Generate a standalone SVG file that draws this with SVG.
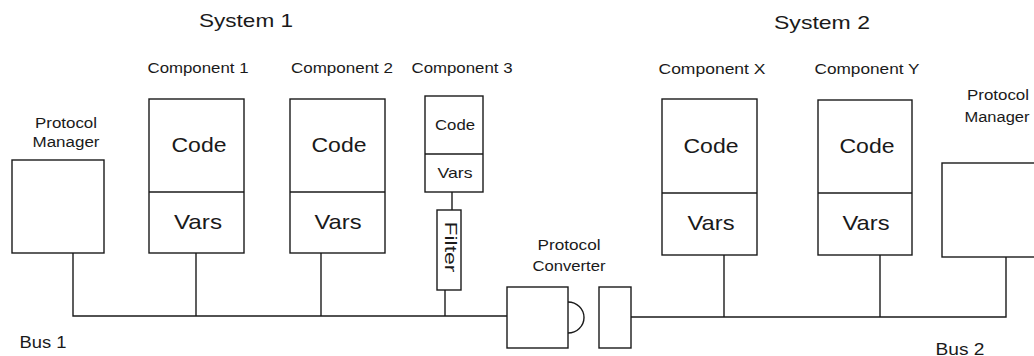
<svg xmlns="http://www.w3.org/2000/svg" width="1034" height="356" viewBox="0 0 1034 356">
<style>
  .box{fill:#fff;stroke:#1a1a1a;stroke-width:1.4}
  .ln{fill:none;stroke:#1a1a1a;stroke-width:1.4}
  text{font-family:"Liberation Sans",Arial,sans-serif;fill:#1a1a1a;text-anchor:middle}
  .t19{font-size:19px}
  .t15{font-size:15px}
  .t14{font-size:14px}
  .t21{font-size:21px}
  .t16{font-size:16px}
  .t17{font-size:17px}
</style>
<rect width="1034" height="356" fill="#fff"/>
<g id="connectors">
  <polyline class="ln" points="73,253 73,316 507,316"/>
  <line class="ln" x1="196" y1="253" x2="196" y2="316"/>
  <line class="ln" x1="321" y1="253" x2="321" y2="316"/>
  <line class="ln" x1="452" y1="192" x2="452" y2="210"/>
  <line class="ln" x1="445" y1="290" x2="445" y2="316"/>
  <polyline class="ln" points="631,317 1006,317 1006,257"/>
  <line class="ln" x1="724" y1="255" x2="724" y2="317"/>
  <line class="ln" x1="880" y1="255" x2="880" y2="317"/>
</g>
<g id="labels">
  <text class="t19" x="246" y="27" textLength="94" lengthAdjust="spacingAndGlyphs">System 1</text>
  <text class="t19" x="822" y="29" textLength="96" lengthAdjust="spacingAndGlyphs">System 2</text>
  <text class="t16" x="43" y="348" textLength="47" lengthAdjust="spacingAndGlyphs">Bus 1</text>
  <text class="t16" x="960" y="355" textLength="49" lengthAdjust="spacingAndGlyphs">Bus 2</text>
</g>
<g id="pm1">
  <rect class="box" x="12" y="160" width="92" height="93"/>
  <text class="t14" x="66" y="128" textLength="62" lengthAdjust="spacingAndGlyphs">Protocol</text>
  <text class="t14" x="66" y="147" textLength="67" lengthAdjust="spacingAndGlyphs">Manager</text>
</g>
<g id="comp1">
  <text class="t15" x="198" y="73" textLength="101" lengthAdjust="spacingAndGlyphs">Component 1</text>
  <rect class="box" x="149" y="99" width="95" height="154"/>
  <line class="ln" x1="149" y1="192" x2="244" y2="192"/>
  <text class="t21" x="199" y="152" textLength="55" lengthAdjust="spacingAndGlyphs">Code</text>
  <text class="t21" x="198" y="229" textLength="48" lengthAdjust="spacingAndGlyphs">Vars</text>
</g>
<g id="comp2">
  <text class="t15" x="342" y="73" textLength="102" lengthAdjust="spacingAndGlyphs">Component 2</text>
  <rect class="box" x="290" y="99" width="95" height="154"/>
  <line class="ln" x1="290" y1="192" x2="385" y2="192"/>
  <text class="t21" x="339" y="152" textLength="55" lengthAdjust="spacingAndGlyphs">Code</text>
  <text class="t21" x="338" y="229" textLength="47" lengthAdjust="spacingAndGlyphs">Vars</text>
</g>
<g id="comp3">
  <text class="t15" x="462" y="73" textLength="101" lengthAdjust="spacingAndGlyphs">Component 3</text>
  <rect class="box" x="425" y="96" width="58" height="96"/>
  <line class="ln" x1="425" y1="154" x2="483" y2="154"/>
  <text class="t15" x="455" y="130" textLength="40" lengthAdjust="spacingAndGlyphs">Code</text>
  <text class="t15" x="455" y="178" textLength="35" lengthAdjust="spacingAndGlyphs">Vars</text>
</g>
<g id="filter">
  <rect class="box" x="437" y="210" width="24" height="80"/>
  <text class="t17" transform="translate(450,247) rotate(90)" dominant-baseline="central" textLength="51" lengthAdjust="spacingAndGlyphs">Filter</text>
</g>
<g id="converter">
  <text class="t14" x="569" y="250" textLength="63" lengthAdjust="spacingAndGlyphs">Protocol</text>
  <text class="t14" x="569" y="271" textLength="73" lengthAdjust="spacingAndGlyphs">Converter</text>
  <rect class="box" x="507" y="287" width="61" height="61"/>
  <path class="ln" d="M568,302 A16,15.5 0 0 1 568,333"/>
  <rect class="box" x="599" y="287" width="32" height="61"/>
</g>
<g id="compX">
  <text class="t15" x="712" y="74" textLength="107" lengthAdjust="spacingAndGlyphs">Component X</text>
  <rect class="box" x="662" y="99" width="95" height="156"/>
  <line class="ln" x1="662" y1="193" x2="757" y2="193"/>
  <text class="t21" x="711" y="153" textLength="55" lengthAdjust="spacingAndGlyphs">Code</text>
  <text class="t21" x="711" y="230" textLength="47" lengthAdjust="spacingAndGlyphs">Vars</text>
</g>
<g id="compY">
  <text class="t15" x="867" y="74" textLength="105" lengthAdjust="spacingAndGlyphs">Component Y</text>
  <rect class="box" x="818" y="100" width="94" height="155"/>
  <line class="ln" x1="818" y1="193" x2="912" y2="193"/>
  <text class="t21" x="867" y="153" textLength="55" lengthAdjust="spacingAndGlyphs">Code</text>
  <text class="t21" x="866" y="230" textLength="47" lengthAdjust="spacingAndGlyphs">Vars</text>
</g>
<g id="pm2">
  <rect class="box" x="942" y="163" width="100" height="94"/>
  <text class="t14" x="998" y="100" textLength="62" lengthAdjust="spacingAndGlyphs">Protocol</text>
  <text class="t14" x="997" y="122" textLength="65" lengthAdjust="spacingAndGlyphs">Manager</text>
</g>
</svg>
